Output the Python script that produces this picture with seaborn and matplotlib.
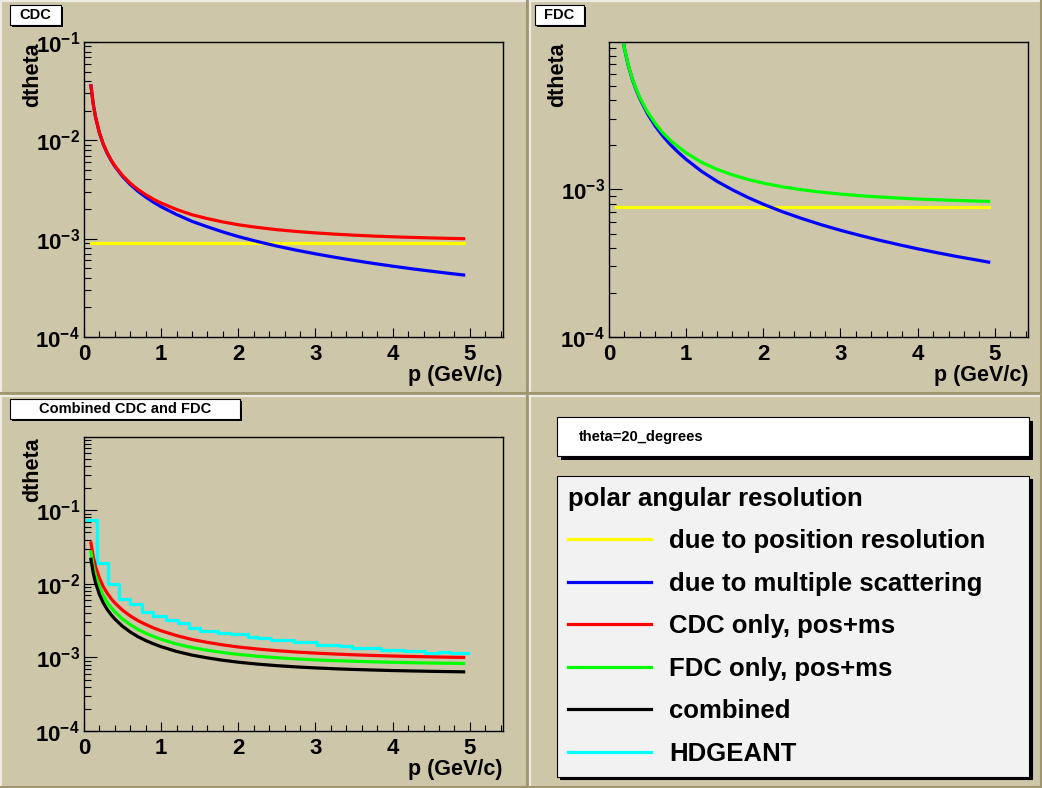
import numpy as np
import matplotlib
matplotlib.use("Agg")
import matplotlib.pyplot as plt
import seaborn as sns
from matplotlib.lines import Line2D
from matplotlib.patches import Rectangle
from matplotlib.ticker import LogLocator, FuncFormatter, MultipleLocator, NullFormatter

# momentum points (GeV/c)
p_grid = [0.09, 0.12, 0.15, 0.2, 0.25, 0.3, 0.35, 0.4, 0.5, 0.6, 0.7, 0.8, 0.9, 1.0,
          1.2, 1.4, 1.6, 1.8, 2.0, 2.25, 2.5, 2.75, 3.0, 3.25, 3.5, 3.75, 4.0, 4.25,
          4.5, 4.75, 4.92]

# CDC
cdc_ms = [0.0359, 0.0233, 0.01714, 0.01188, 0.00911, 0.00742, 0.00627, 0.00543, 0.00429,
          0.00355, 0.00303, 0.00265, 0.00235, 0.00211, 0.00176, 0.00150, 0.00132, 0.00117,
          0.00105, 0.000934, 0.000841, 0.000764, 0.000701, 0.000647, 0.000601, 0.00056,
          0.000525, 0.000494, 0.000467, 0.000442, 0.000427]
cdc_tot = [0.0359, 0.0233, 0.01716, 0.01191, 0.00915, 0.00748, 0.00633, 0.0055, 0.00438,
           0.00366, 0.00316, 0.0028, 0.00252, 0.0023, 0.00198, 0.00175, 0.0016, 0.00148,
           0.001385, 0.0013, 0.001235, 0.001184, 0.001144, 0.001112, 0.001085, 0.001063,
           0.001045, 0.00103, 0.001017, 0.001006, 0.001]

# FDC
fdc_ms = [0.0270, 0.01754, 0.01289, 0.00894, 0.00686, 0.00558, 0.00472, 0.00409, 0.00323,
          0.00267, 0.00228, 0.00199, 0.00177, 0.00159, 0.00132, 0.00113, 0.00099, 0.000879,
          0.000791, 0.000703, 0.000633, 0.000575, 0.000527, 0.000487, 0.000452, 0.000422,
          0.000395, 0.000372, 0.000351, 0.000333, 0.000321]
fdc_tot = [0.0270, 0.01756, 0.01291, 0.00897, 0.0069, 0.00563, 0.00478, 0.00416, 0.00332,
           0.00278, 0.0024, 0.00213, 0.00193, 0.00176, 0.00152, 0.001363, 0.00125, 0.001164,
           0.001099, 0.001037, 0.000991, 0.000955, 0.000927, 0.000904, 0.000886, 0.000871,
           0.000858, 0.000848, 0.000839, 0.000832, 0.000827]

# combined
comb_tot = [0.02158, 0.01402, 0.01032, 0.007165, 0.00551, 0.0045, 0.003815, 0.003318,
            0.002646, 0.002214, 0.001911, 0.001695, 0.001532, 0.001398, 0.001206, 0.001075,
            0.000985, 0.000915, 0.000861, 0.000811, 0.000773, 0.000743, 0.00072, 0.000701,
            0.000686, 0.000674, 0.000663, 0.000655, 0.000647, 0.000641, 0.000637]

# position resolution (flat)
pos_p = [0.09, 4.92]
cdc_pos = [0.000904, 0.000904]
fdc_pos = [0.000762, 0.000762]

# HDGEANT histogram (bin edges, contents)
hd_edges = [0.04, 0.17, 0.31, 0.46, 0.6, 0.75, 0.9, 1.06, 1.22, 1.36, 1.5, 1.74, 1.9, 2.12,
            2.25, 2.42, 2.72, 3.02, 3.32, 3.47, 3.85, 4.15, 4.42, 4.6, 4.74, 4.97]
hd_vals = [0.0731, 0.0189, 0.0098, 0.0062, 0.00525, 0.0041, 0.00368, 0.00321, 0.0029,
           0.00248, 0.00228, 0.00212, 0.00206, 0.0019, 0.00183, 0.0017, 0.0016, 0.00147,
           0.00141, 0.00134, 0.00127, 0.00122, 0.00115, 0.0012, 0.00115]

legend_labels = ["due to position resolution", "due to multiple scattering",
                 "CDC only, pos+ms", "FDC only, pos+ms", "combined", "HDGEANT"]
legend_colors = ["#ffff00", "#0000ff", "#ff0000", "#00ff00", "#000000", "#00ffff"]

W, H = 1042, 788
TAN = "#cdc6a9"

plt.rcParams['font.family'] = ['Liberation Sans', 'DejaVu Sans']
plt.rcParams['font.weight'] = 'bold'
plt.rcParams['mathtext.fontset'] = 'custom'
plt.rcParams['mathtext.rm'] = 'Liberation Sans:bold'
plt.rcParams['mathtext.bf'] = 'Liberation Sans:bold'
plt.rcParams['mathtext.it'] = 'Liberation Sans:bold'
plt.rcParams['mathtext.default'] = 'bf'

fig = plt.figure(figsize=(W / 100, H / 100), dpi=100, facecolor=TAN)


def fx(px):
    return px / W


def fy(py):
    return 1 - py / H


def pix_axes(x0, y0, x1, y1):
    return fig.add_axes([fx(x0), fy(y1), (x1 - x0) / W, (y1 - y0) / H])


# pad bevels
for (x0, y0, x1, y1) in [(0, 0, 528, 394), (529, 0, 1042, 394),
                         (0, 395, 528, 788), (529, 395, 1042, 788)]:
    fig.add_artist(Line2D([fx(x0 + 1), fx(x1 - 1)], [fy(y0 + 1), fy(y0 + 1)],
                          transform=fig.transFigure, color="#eeebe2", lw=1.6))
    fig.add_artist(Line2D([fx(x0 + 1), fx(x0 + 1)], [fy(y0 + 1), fy(y1 - 1)],
                          transform=fig.transFigure, color="#eeebe2", lw=1.6))
    fig.add_artist(Line2D([fx(x0 + 1), fx(x1 - 1)], [fy(y1 - 1), fy(y1 - 1)],
                          transform=fig.transFigure, color="#9d9670", lw=2.2))
    fig.add_artist(Line2D([fx(x1 - 1), fx(x1 - 1)], [fy(y0 + 1), fy(y1 - 1)],
                          transform=fig.transFigure, color="#9d9670", lw=2.2))


def boxed_text(x0, y0, x1, y1, text, size, ha="center", tx=None, face="white", sh=2):
    fig.add_artist(Rectangle((fx(x0 + sh), fy(y1 + sh)), (x1 - x0) / W, (y1 - y0) / H,
                             transform=fig.transFigure, facecolor="black", edgecolor="none"))
    fig.add_artist(Rectangle((fx(x0), fy(y1)), (x1 - x0) / W, (y1 - y0) / H,
                             transform=fig.transFigure, facecolor=face, edgecolor="black", lw=0.8))
    if tx is None:
        tx = (x0 + x1) / 2
    fig.text(fx(tx), fy((y0 + y1) / 2), text, ha=ha, va="center", fontsize=size,
             fontweight="bold")


def log_fmt(v, pos):
    e = int(round(np.log10(v)))
    return r"$10^{%d}$" % e


def style_axes(ax, ylim):
    ax.set_facecolor(TAN)
    ax.set_yscale("log")
    ax.set_xlim(0, 5.43)
    ax.set_ylim(*ylim)
    ax.xaxis.set_major_locator(MultipleLocator(1))
    ax.xaxis.set_minor_locator(MultipleLocator(0.2))
    ax.yaxis.set_major_locator(LogLocator(base=10))
    ax.yaxis.set_minor_locator(LogLocator(base=10, subs=np.arange(2, 10)))
    ax.yaxis.set_major_formatter(FuncFormatter(log_fmt))
    ax.yaxis.set_minor_formatter(NullFormatter())
    ax.tick_params(axis="both", which="both", direction="in", top=False, right=False,
                   color="black", width=0.8)
    ax.tick_params(axis="y", which="major", length=9, pad=3, labelsize=16)
    ax.tick_params(axis="y", which="minor", length=4.8)
    ax.tick_params(axis="x", which="major", length=6.5, pad=5, labelsize=16)
    ax.tick_params(axis="x", which="minor", length=4)
    for lab in ax.get_xticklabels() + ax.get_yticklabels():
        lab.set_fontweight("bold")
    for s in ax.spines.values():
        s.set_color("black")
        s.set_linewidth(1.0)
    ax.set_xlabel("p (GeV/c)", fontsize=15.5, fontweight="bold", loc="right")
    ax.set_ylabel("dtheta", fontsize=15.5, fontweight="bold", loc="top")
    ax.xaxis.set_label_coords(1.0, -0.095)
    ax.yaxis.set_label_coords(-0.098, 1.0)


LW = 2.3

# CDC
ax1 = pix_axes(84, 42, 503, 337)
sns.lineplot(x=pos_p, y=cdc_pos, ax=ax1, color="#ffff00", lw=LW)
sns.lineplot(x=p_grid, y=cdc_ms, ax=ax1, color="#0000ff", lw=LW)
sns.lineplot(x=p_grid, y=cdc_tot, ax=ax1, color="#ff0000", lw=LW)
style_axes(ax1, (1e-4, 1e-1))

# FDC
ax2 = pix_axes(609, 42, 1028, 337)
sns.lineplot(x=pos_p, y=fdc_pos, ax=ax2, color="#ffff00", lw=LW)
sns.lineplot(x=p_grid, y=fdc_ms, ax=ax2, color="#0000ff", lw=LW)
sns.lineplot(x=p_grid, y=fdc_tot, ax=ax2, color="#00ff00", lw=LW)
style_axes(ax2, (1e-4, 0.0099))

# combined
ax3 = pix_axes(84, 437, 503, 731)
sns.lineplot(x=hd_edges, y=hd_vals + [hd_vals[-1]], ax=ax3, color="#00ffff", lw=LW,
             drawstyle="steps-post")
sns.lineplot(x=p_grid, y=cdc_tot, ax=ax3, color="#ff0000", lw=LW)
sns.lineplot(x=p_grid, y=fdc_tot, ax=ax3, color="#00ff00", lw=LW)
sns.lineplot(x=p_grid, y=comb_tot, ax=ax3, color="#000000", lw=LW)
style_axes(ax3, (1e-4, 0.99))

# pad titles
boxed_text(10, 5, 61, 25, "CDC", 10.5)
boxed_text(535, 5, 584, 25, "FDC", 10.5)
boxed_text(10, 399, 240, 419, "Combined CDC and FDC", 10.5)

# text box in the legend pad
boxed_text(557, 417, 1029, 456, "theta=20_degrees", 10.5, ha="left", tx=579, sh=4)

# legend
handles = [Line2D([], [], color=c, lw=LW) for c in legend_colors]
leg = fig.legend(handles, legend_labels, loc="upper left",
                 bbox_to_anchor=(fx(557), fy(772), (1029 - 557) / W, (772 - 476) / H),
                 mode="expand", title="polar angular resolution",
                 prop={"weight": "bold", "size": 18.5},
                 title_fontproperties={"weight": "bold", "size": 18.5},
                 alignment="left", frameon=True, fancybox=False,
                 facecolor="#f2f2f2", edgecolor="black", framealpha=1,
                 shadow={"color": "black", "alpha": 1},
                 handlelength=3.25, handletextpad=0.7, labelspacing=0.72,
                 borderpad=0.42, borderaxespad=0)
leg.get_frame().set_linewidth(0.8)

fig.savefig("out.png", dpi=100, facecolor=TAN)
